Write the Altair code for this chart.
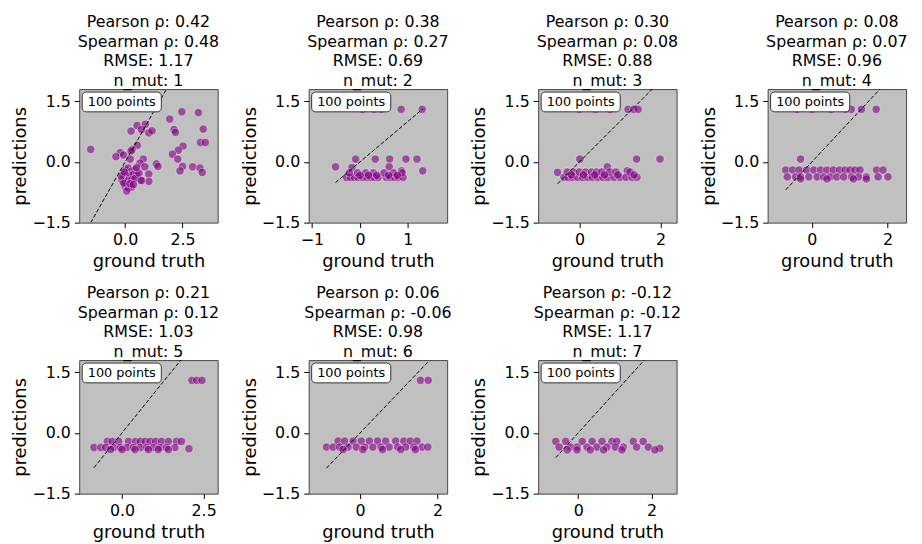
import altair as alt
import pandas as pd

# ---- panel statistics (titles) ----
n_mut = [1, 2, 3, 4, 5, 6, 7]
pearson = [0.42, 0.38, 0.30, 0.08, 0.21, 0.06, -0.12]
spearman = [0.48, 0.27, 0.08, 0.07, 0.12, -0.06, -0.12]
rmse = [1.17, 0.69, 0.88, 0.96, 1.03, 0.98, 1.17]
n_points = [100, 100, 100, 100, 100, 100, 100]

# ---- axis settings ----
x_domains = [[-2.0, 4.03], [-1.07, 1.82], [-1.02, 2.4], [-1.17, 2.49],
             [-1.31, 2.93], [-1.33, 2.25], [-1.09, 2.68]]
x_ticks = [[0.0, 2.5], [-1, 0, 1], [0, 2], [0, 2], [0.0, 2.5], [0, 2], [0, 2]]
x_formats = [".1f", "d", "d", "d", ".1f", "d", "d"]
y_domain = [-1.5, 1.8]
y_ticks = [-1.5, 0.0, 1.5]

# ---- data ----
gt_1 = [-1.50, 1.94, 2.47, 3.19, 3.40, 2.13, 2.19, 3.28, 3.49, 2.52, 2.32, 2.06, 2.29, 2.50, 2.39, 2.94, 3.26, 3.36,
        0.88, 0.52, 0.26, 0.71, 1.03, 1.17,
        0.53, 0.31, 0.26, -0.21, -0.40, -0.07, 0.22, 0.79, 0.65, 0.86, 1.36, 1.43, 1.03, 1.03, 0.67,
        0.00, 0.14, 0.29, 0.43, -0.07, 0.07, 0.21, 0.36, 0.50, -0.14, 0.00, 0.14, 0.29, 0.43, 0.00, 0.14,
        0.29, 0.07, -0.07, 0.21, 0.36, -0.17, -0.03, 0.60, 0.50, 0.71]
pred_1 = [0.31, 1.06, 1.24, 1.22, 0.81, 0.80, 0.73, 0.48, 0.48, 0.39, 0.29, 0.19, 0.07, -0.11, -0.22, -0.12, -0.15, -0.26,
          0.93, 0.90, 0.76, 0.80, 0.72, 0.77,
          0.41, 0.31, 0.27, 0.23, 0.13, 0.17, 0.07, 0.07, -0.03, -0.12, -0.05, -0.11, -0.30, -0.48, -0.45,
          -0.19, -0.15, -0.22, -0.19, -0.31, -0.35, -0.33, -0.31, -0.30, -0.44, -0.48, -0.46, -0.44, -0.41, -0.60, -0.64,
          -0.62, -0.72, -0.52, -0.54, -0.56, -0.35, -0.25, -0.28, -0.14, -0.46]

gt_2 = [-0.51, -0.09, 0.32, 0.62, 0.96, 1.19, 1.31, 0.61, 0.87, -0.17, 0.86, 1.30, 0.05, 0.30, 0.45,
        -0.28, -0.20, -0.12, -0.04, 0.05, 0.14, 0.22, 0.30, 0.38, 0.55, 0.63, 0.72, 0.80, 0.90,
        -0.22, -0.05, 0.12, 0.28, 0.50, 0.70, 0.88,
        0.00, 0.18, 0.35, 0.60, 0.78]
pred_2 = [-0.12, 0.07, 0.07, 0.07, 0.07, 0.07, -0.22, -0.12, -0.22, -0.14, 1.30, 1.30, 1.30, 1.30, 1.30,
          -0.38, -0.38, -0.38, -0.38, -0.38, -0.38, -0.38, -0.38, -0.38, -0.38, -0.38, -0.38, -0.38, -0.38,
          -0.27, -0.27, -0.27, -0.27, -0.27, -0.27, -0.27,
          -0.33, -0.33, -0.33, -0.33, -0.33]

gt_3 = [0.01, 1.41, 1.99, -0.54, 0.69, 1.18, 1.20, 1.34, 1.45, 0.00, 0.40, 0.75,
        -0.38, -0.28, -0.18, -0.05, 0.08, 0.20, 0.32, 0.45, 0.58, 0.70, 0.85, 1.00, 1.15, 1.30, 1.42,
        -0.30, -0.15, 0.00, 0.15, 0.30, 0.42, 0.55, 0.75, 0.90, 1.25,
        -0.20, 0.10, 0.38, 0.62, 0.95, 1.35]
pred_3 = [0.07, 0.07, 0.07, -0.26, -0.12, -0.22, 1.30, 1.30, 1.30, 1.30, 1.30, 1.30,
          -0.38, -0.38, -0.38, -0.38, -0.38, -0.38, -0.38, -0.38, -0.38, -0.38, -0.38, -0.38, -0.38, -0.38, -0.38,
          -0.25, -0.25, -0.25, -0.25, -0.25, -0.25, -0.25, -0.25, -0.25, -0.25,
          -0.32, -0.32, -0.32, -0.32, -0.32, -0.32]

gt_4 = [-0.30, 1.04, 1.31, 1.70, -0.40, 0.00, 0.50, 0.90,
        -0.69, -0.51, -0.34, -0.14, 0.05, 0.23, 0.40, 0.57, 0.73, 0.88, 1.01, 1.14, 1.27, 1.71, 1.88,
        -0.65, -0.43, -0.30, -0.08, 0.14, 0.31, 0.49, 0.66, 0.84, 1.05, 1.23, 1.44, 1.75, 2.01,
        -0.30, 0.40, 1.10, 1.44]
pred_4 = [0.07, 1.30, 1.30, 1.30, 1.30, 1.30, 1.30, 1.30,
          -0.20, -0.20, -0.20, -0.20, -0.20, -0.20, -0.20, -0.20, -0.20, -0.20, -0.20, -0.20, -0.20, -0.20, -0.20,
          -0.37, -0.37, -0.37, -0.37, -0.37, -0.37, -0.37, -0.37, -0.37, -0.37, -0.37, -0.37, -0.37, -0.37,
          -0.42, -0.42, -0.42, -0.42]

gt_5 = [2.14, 2.29, 2.45,
        -0.45, -0.30, -0.10, 0.20, 0.41, 0.56, 0.71, 0.86, 1.03, 1.21, 1.42, 1.67, 1.82,
        -0.86, -0.65, -0.50, -0.25, -0.05, 0.15, 0.35, 0.56, 0.76, 0.96, 1.16, 1.36, 1.62,
        -0.35, 0.00, 0.40, 0.81, 1.11, 1.42, 2.05]
pred_5 = [1.30, 1.30, 1.30,
          -0.21, -0.21, -0.21, -0.21, -0.21, -0.21, -0.21, -0.21, -0.21, -0.21, -0.21, -0.21, -0.21,
          -0.36, -0.36, -0.36, -0.36, -0.36, -0.36, -0.36, -0.36, -0.36, -0.36, -0.36, -0.36, -0.36,
          -0.41, -0.41, -0.41, -0.41, -0.41, -0.41, -0.39]

gt_6 = [1.56, 1.76,
        -0.57, -0.40, -0.18, 0.03, 0.24, 0.45, 0.66, 0.92, 1.13, 1.30, 1.47,
        -0.87, -0.70, -0.53, -0.31, -0.10, 0.12, 0.33, 0.54, 0.75, 0.97, 1.18, 1.39, 1.60, 1.75,
        -0.44, 0.07, 0.58, 1.05, 1.43]
pred_6 = [1.30, 1.30,
          -0.20, -0.20, -0.20, -0.20, -0.20, -0.20, -0.20, -0.20, -0.20, -0.20, -0.20,
          -0.35, -0.35, -0.35, -0.35, -0.35, -0.35, -0.35, -0.35, -0.35, -0.35, -0.35, -0.35, -0.35, -0.35,
          -0.41, -0.41, -0.41, -0.41, -0.41]

gt_7 = [-0.61, -0.34, 0.11, 0.38, 0.65, 0.92, 1.05, 1.50, 1.77,
        -0.52, -0.21, -0.03, 0.24, 0.51, 0.78, 1.01, 1.23, 1.59, 1.91, 2.22,
        -0.30, -0.03, 0.33, 0.69, 1.19, 2.09]
pred_7 = [-0.21, -0.21, -0.21, -0.21, -0.21, -0.21, -0.21, -0.21, -0.21,
          -0.35, -0.35, -0.35, -0.35, -0.35, -0.35, -0.35, -0.35, -0.35, -0.35, -0.38,
          -0.42, -0.42, -0.42, -0.42, -0.42, -0.42]

gts = [gt_1, gt_2, gt_3, gt_4, gt_5, gt_6, gt_7]
preds = [pred_1, pred_2, pred_3, pred_4, pred_5, pred_6, pred_7]

FONT = "DejaVu Sans"
MINUS = "replace(datum.label, '-', '\u2212')"


def panel(i):
    df = pd.DataFrame({"gt": gts[i], "pred": preds[i]})
    lo = min(df["gt"].min(), df["pred"].min())
    hi = max(df["gt"].max(), df["pred"].max())
    line_df = pd.DataFrame({"gt": [lo, hi], "pred": [lo, hi]})
    xs = alt.Scale(domain=x_domains[i], nice=False, zero=False)
    ys = alt.Scale(domain=y_domain, nice=False, zero=False)
    xax = alt.Axis(values=x_ticks[i], format=x_formats[i], labelFlush=False, labelExpr=MINUS)
    yax = alt.Axis(values=y_ticks, format=".1f", labelExpr=MINUS)
    pts = alt.Chart(df).mark_circle(
        size=70, color="#800080", fillOpacity=0.6, stroke="white", strokeWidth=0.6, strokeOpacity=0.7
    ).encode(
        x=alt.X("gt:Q", scale=xs, axis=xax, title="ground truth"),
        y=alt.Y("pred:Q", scale=ys, axis=yax, title="predictions"),
    )
    ln = alt.Chart(line_df).mark_line(
        clip=True, color="black", strokeDash=[4, 2], strokeWidth=1
    ).encode(
        x=alt.X("gt:Q", title="ground truth"),
        y=alt.Y("pred:Q", title="predictions"),
    )
    box_df = pd.DataFrame({"label": [f"{n_points[i]} points"]})
    box = alt.Chart(box_df).mark_rect(
        fill="white", stroke="#333333", strokeWidth=1, cornerRadius=4
    ).encode(x=alt.value(3), x2=alt.value(83), y=alt.value(3), y2=alt.value(23))
    txt = alt.Chart(box_df).mark_text(
        fontSize=13, font=FONT, color="black", baseline="middle", align="center"
    ).encode(x=alt.value(43), y=alt.value(13.5), text="label:N")
    title = alt.TitleParams(
        text=[f"Pearson ρ: {pearson[i]:.2f}", f"Spearman ρ: {spearman[i]:.2f}",
              f"RMSE: {rmse[i]:.2f}", f"n_mut: {n_mut[i]}"],
        fontSize=16, font=FONT, fontWeight="normal", lineHeight=20, anchor="middle",
        offset=0, color="black",
    )
    return alt.layer(pts, ln, box, txt, title=title).properties(width=140, height=135)


panels = [panel(i) for i in range(7)]

chart = alt.concat(
    *panels, columns=4, spacing={"row": 139, "column": 92}, bounds="flush"
).properties(
    background="white",
    padding={"left": 3, "top": 2, "right": 5, "bottom": 5},
).configure_view(
    fill="#c0c0c0", stroke="#444444", strokeWidth=1
).configure_axis(
    labelFont=FONT, labelFontSize=16, labelColor="black",
    titleFont=FONT, titleFontSize=18, titleFontWeight="normal", titleColor="black",
    tickColor="black", tickSize=5, labelPadding=4, domain=False, grid=False,
).configure_axisY(
    titlePadding=2
).configure_axisX(
    titlePadding=5
)

chart.save("out.html", embed_options={"renderer": "svg", "actions": False})
